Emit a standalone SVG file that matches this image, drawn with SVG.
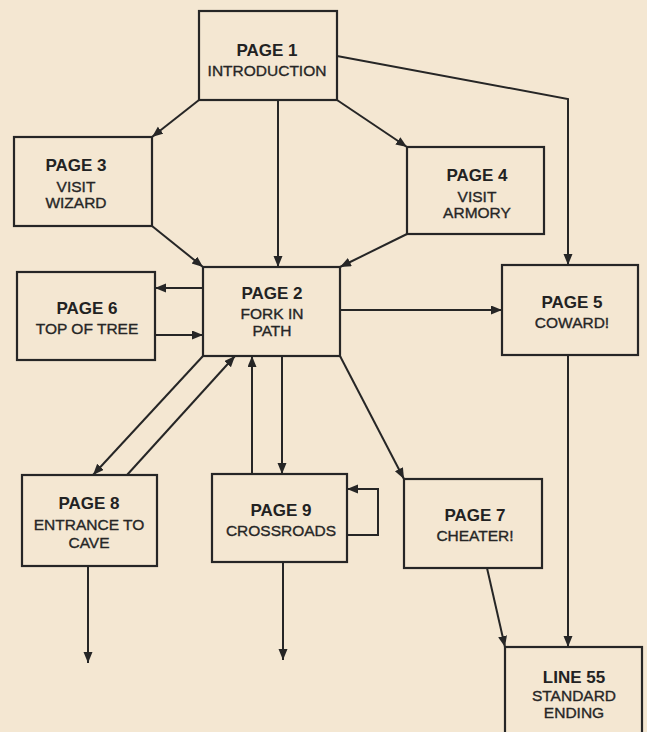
<svg xmlns="http://www.w3.org/2000/svg" width="647" height="732" viewBox="0 0 647 732">
<style>
.bx{fill:none;stroke:#262626;stroke-width:2.2}
.t{font-family:"Liberation Sans",Arial,sans-serif;font-weight:bold;font-size:17px;fill:#222;text-anchor:middle}
.s{font-family:"Liberation Sans",Arial,sans-serif;font-size:15.5px;fill:#262626;stroke:#262626;stroke-width:0.35;text-anchor:middle}
.c{fill:none;stroke:#262626;stroke-width:2}
.a{marker-end:url(#ah)}
</style>
<defs>
<marker id="ah" markerUnits="userSpaceOnUse" markerWidth="12" markerHeight="10" refX="11" refY="4.5" orient="auto">
<path d="M0,0 L11,4.5 L0,9 z" fill="#262626"/>
</marker>
</defs>
<rect width="647" height="732" fill="#f4e7d2"/>
<g id="connectors">
<line class="c a" x1="199" y1="100" x2="152" y2="137"/>
<line class="c a" x1="337" y1="100" x2="407" y2="147"/>
<line class="c a" x1="278" y1="100" x2="278" y2="267"/>
<polyline class="c a" points="337,56 568,99 568,265"/>
<line class="c a" x1="152" y1="226" x2="203" y2="267"/>
<line class="c a" x1="407" y1="234" x2="340" y2="267"/>
<line class="c a" x1="203" y1="288" x2="155" y2="288"/>
<line class="c a" x1="155" y1="335" x2="203" y2="335"/>
<line class="c a" x1="340" y1="310" x2="502" y2="310"/>
<line class="c a" x1="340" y1="356" x2="404" y2="479"/>
<line class="c a" x1="203" y1="356" x2="93" y2="475"/>
<line class="c a" x1="127" y1="475" x2="235" y2="356"/>
<line class="c a" x1="252" y1="474" x2="252" y2="356"/>
<line class="c a" x1="282" y1="356" x2="282" y2="474"/>
<polyline class="c a" points="347,535 378,535 378,489 347,489"/>
<line class="c a" x1="88" y1="566" x2="88" y2="663"/>
<line class="c a" x1="283" y1="562" x2="283" y2="660"/>
<line class="c a" x1="487" y1="568" x2="505" y2="647"/>
<line class="c a" x1="568" y1="355" x2="568" y2="647"/>
</g>
<g id="page1"><rect class="bx" x="199" y="11" width="138" height="89"/><text class="t" x="267" y="56">PAGE 1</text><text class="s" x="267" y="76">INTRODUCTION</text></g>
<g id="page3"><rect class="bx" x="14" y="137" width="138" height="89"/><text class="t" x="76" y="171">PAGE 3</text><text class="s" x="76" y="192">VISIT</text><text class="s" x="76" y="208">WIZARD</text></g>
<g id="page4"><rect class="bx" x="407" y="147" width="137" height="87"/><text class="t" x="477" y="181">PAGE 4</text><text class="s" x="477" y="202">VISIT</text><text class="s" x="477" y="218">ARMORY</text></g>
<g id="page6"><rect class="bx" x="17" y="272" width="138" height="88"/><text class="t" x="87" y="314">PAGE 6</text><text class="s" x="87" y="334">TOP OF TREE</text></g>
<g id="page2"><rect class="bx" x="203" y="267" width="137" height="89"/><text class="t" x="272" y="299">PAGE 2</text><text class="s" x="272" y="319">FORK IN</text><text class="s" x="272" y="336">PATH</text></g>
<g id="page5"><rect class="bx" x="502" y="265" width="136" height="90"/><text class="t" x="572" y="308">PAGE 5</text><text class="s" x="572" y="328">COWARD!</text></g>
<g id="page8"><rect class="bx" x="22" y="475" width="135" height="91"/><text class="t" x="89" y="509">PAGE 8</text><text class="s" x="89" y="530">ENTRANCE TO</text><text class="s" x="89" y="548">CAVE</text></g>
<g id="page9"><rect class="bx" x="212" y="474" width="135" height="88"/><text class="t" x="281" y="516">PAGE 9</text><text class="s" x="281" y="536">CROSSROADS</text></g>
<g id="page7"><rect class="bx" x="404" y="479" width="138" height="89"/><text class="t" x="475" y="521">PAGE 7</text><text class="s" x="475" y="541">CHEATER!</text></g>
<g id="line55"><rect class="bx" x="505" y="647" width="137" height="95"/><text class="t" x="574" y="683">LINE 55</text><text class="s" x="574" y="701">STANDARD</text><text class="s" x="574" y="718">ENDING</text></g>
</svg>
